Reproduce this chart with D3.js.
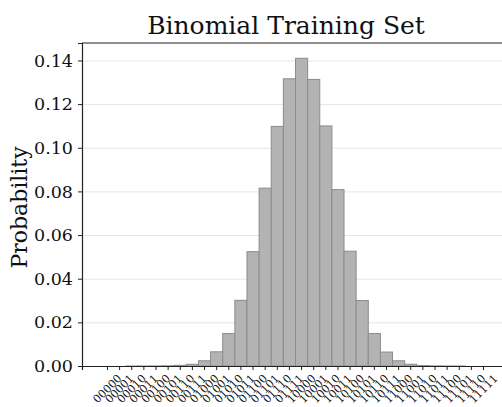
<!DOCTYPE html>
<html>
<head>
<meta charset="utf-8">
<script src="https://cdn.jsdelivr.net/npm/d3@7"></script>
<style>
  html, body { margin: 0; padding: 0; background: #fff; }
  svg { display: block; }
  text { font-family: "DejaVu Serif", serif; fill: #111; }
</style>
</head>
<body>
<svg id="chart" width="502" height="407"></svg>
<script>
// Bit-string outcomes (5 bits) and their probabilities in the training set
const categories = [
  "00000","00001","00010","00011","00100","00101","00110","00111",
  "01000","01001","01010","01011","01100","01101","01110","01111",
  "10000","10001","10010","10011","10100","10101","10110","10111",
  "11000","11001","11010","11011","11100","11101","11110","11111"
];
const probabilities = [
  0.0, 0.0, 0.000001, 0.00001, 0.00003, 0.0001, 0.0003, 0.0008,
  0.0024, 0.0065, 0.0149, 0.0301, 0.0524, 0.0815, 0.1098, 0.1316,
  0.1410, 0.1313, 0.1100, 0.0808, 0.0526, 0.0300, 0.0149, 0.0064,
  0.0024, 0.0008, 0.0002, 0.00005, 0.00001, 0.000002, 0.0, 0.0
];
const yTicks = [0, 0.02, 0.04, 0.06, 0.08, 0.10, 0.12, 0.14];

const svg = d3.select("#chart");
const plotLeft = 82, plotRight = 509, plotTop = 43, plotBottom = 366;

const x = d3.scaleBand()
  .domain(categories)
  .range([plotLeft, plotRight])
  .paddingInner(0)
  .paddingOuter(1.6);

const y = d3.scaleLinear()
  .domain([0, 0.148])
  .range([plotBottom, plotTop]);

// horizontal grid lines
svg.append("g")
  .selectAll("line")
  .data(yTicks)
  .join("line")
  .attr("x1", plotLeft).attr("x2", 502)
  .attr("y1", d => y(d) + 0.5).attr("y2", d => y(d) + 0.5)
  .attr("stroke", "#e6e6e6")
  .attr("stroke-width", 1);

// bars
svg.append("g")
  .selectAll("rect")
  .data(probabilities)
  .join("rect")
  .attr("x", (d, i) => x(categories[i]))
  .attr("width", x.bandwidth())
  .attr("y", d => y(d))
  .attr("height", d => plotBottom - y(d))
  .attr("fill", "#b3b3b3")
  .attr("stroke", "#8c8c8c")
  .attr("stroke-width", 1);

// y axis
const yAxis = d3.axisLeft(y)
  .tickValues(yTicks)
  .tickFormat(d3.format(".2f"))
  .tickSize(4)
  .tickPadding(5);
const gy = svg.append("g")
  .attr("transform", `translate(${plotLeft},0)`)
  .call(yAxis);
gy.select(".domain").attr("stroke", "#222").attr("stroke-width", 1.2);
gy.selectAll(".tick line").attr("stroke", "#222");
gy.selectAll(".tick text")
  .style("font-family", "DejaVu Serif")
  .style("font-size", "17.5px")
  .attr("fill", "#111");

// x axis
const xAxis = d3.axisBottom(x).tickSize(4).tickFormat("");
const gx = svg.append("g")
  .attr("transform", `translate(0,${plotBottom})`)
  .call(xAxis);
gx.select(".domain").attr("stroke", "#222").attr("stroke-width", 1.2);
gx.selectAll(".tick line").attr("stroke", "#222");

// rotated category labels, centred under each tick
svg.append("g")
  .selectAll("text")
  .data(categories)
  .join("text")
  .attr("transform", d => `translate(${x(d) + x.bandwidth() / 2},${plotBottom + 23}) rotate(-45)`)
  .attr("text-anchor", "middle")
  .attr("dominant-baseline", "central")
  .style("font-size", "11px")
  .text(d => d);

// top frame line
svg.append("line")
  .attr("x1", plotLeft).attr("x2", 502)
  .attr("y1", plotTop).attr("y2", plotTop)
  .attr("stroke", "#222").attr("stroke-width", 1.2);

// title
svg.append("text")
  .attr("x", 286).attr("y", 34)
  .attr("text-anchor", "middle")
  .style("font-size", "25px")
  .text("Binomial Training Set");

// y label
svg.append("text")
  .attr("transform", `translate(27,${(plotTop + plotBottom) / 2 + 3}) rotate(-90)`)
  .attr("text-anchor", "middle")
  .style("font-size", "22px")
  .text("Probability");
</script>
</body>
</html>
